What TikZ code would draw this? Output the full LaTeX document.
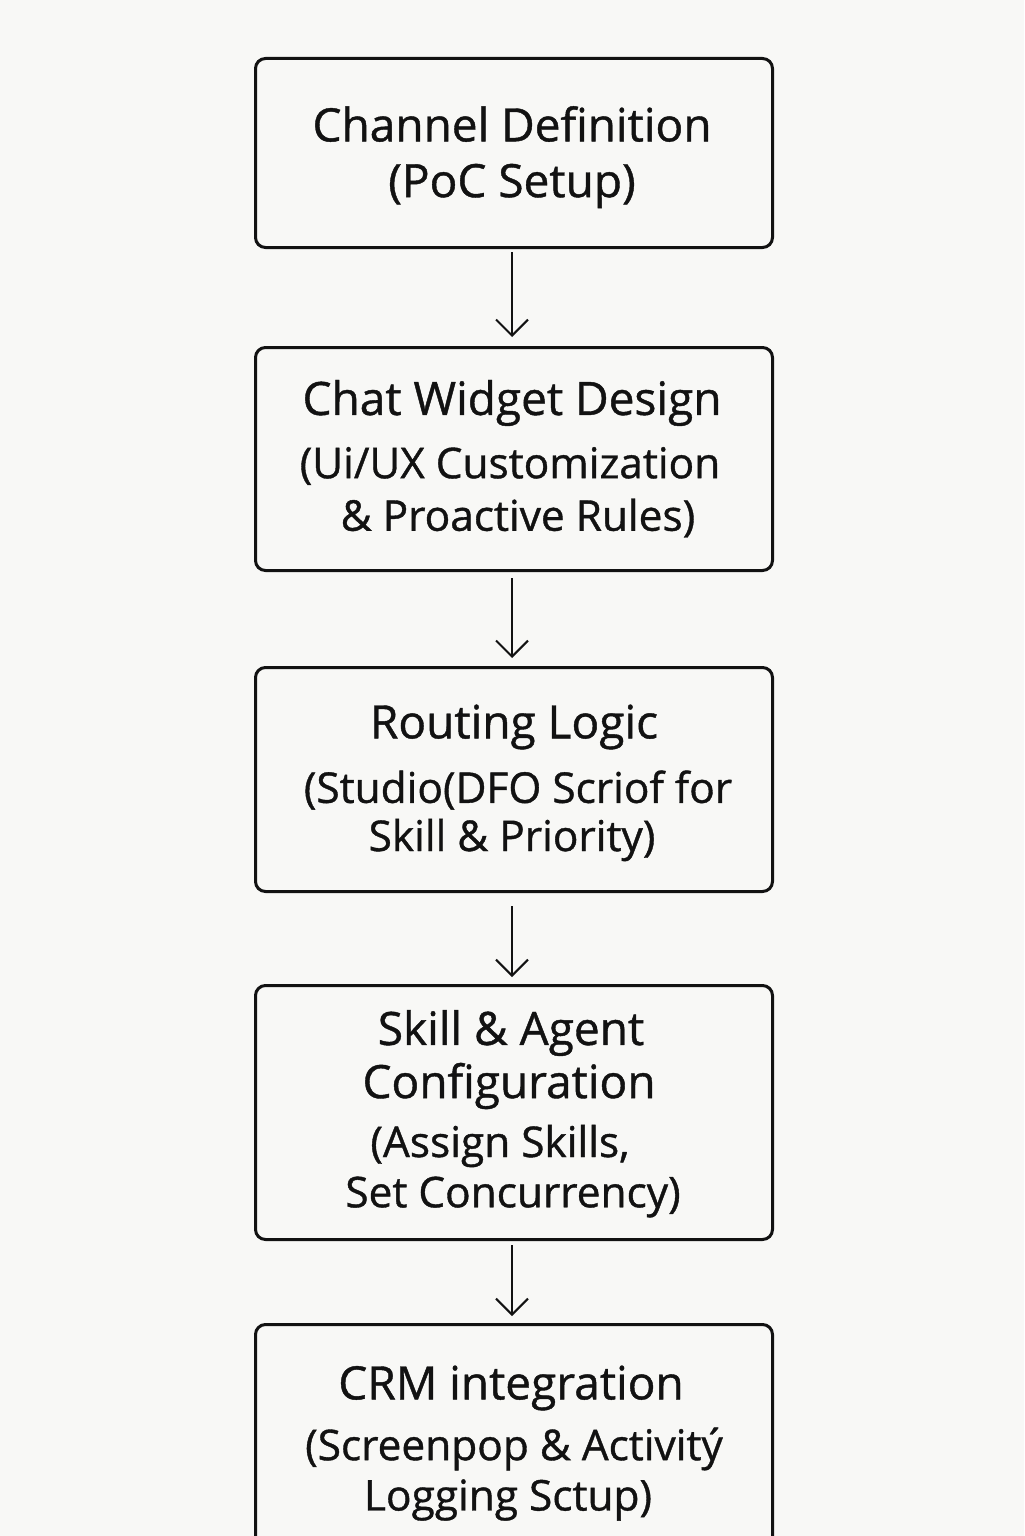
\documentclass[tikz,border=0pt]{standalone}
\usepackage{fontspec}
\setmainfont{Open Sans}[FakeBold=0.9]
\definecolor{bg}{RGB}{248,248,246}
\definecolor{ink}{RGB}{18,18,18}
\tikzset{
  stepbox/.style={draw=ink, line width=1.5pt, rounded corners=5pt, fill=bg},
  flow/.style={draw=ink, line width=1.0pt, -{Straight Barb[length=8pt,width=16pt,line width=1.0pt]}},
  big/.style={text=ink, font=\fontsize{23}{26}\selectfont, inner sep=0pt, anchor=center},
  mid/.style={text=ink, font=\fontsize{21.2}{24}\selectfont, inner sep=0pt, anchor=center}
}
\usetikzlibrary{arrows.meta}
\begin{document}
\begin{tikzpicture}[x=0.5pt,y=-0.5pt]
\useasboundingbox (0,0) rectangle (1024,1536);
\fill[bg] (0,0) rectangle (1024,1536);
\begin{scope}
\clip (0,0) rectangle (1024,1536);
\node[stepbox, minimum width=258.5pt, minimum height=94.5pt, anchor=north west] (b1) at (254,57) {};
\node[stepbox, minimum width=258.5pt, minimum height=111.5pt, anchor=north west] (b2) at (254,346) {};
\node[stepbox, minimum width=258.5pt, minimum height=112pt, anchor=north west] (b3) at (254,666) {};
\node[stepbox, minimum width=258.5pt, minimum height=127pt, anchor=north west] (b4) at (254,984) {};
\node[stepbox, minimum width=258.5pt, minimum height=120pt, anchor=north west] (b5) at (254,1323) {};
\end{scope}
% texts
\node[big] (t1a) at (512,124) {Channel Definition};
\node[big] (t1b) at (512,186) {(PoC Setup)};
\node[big] (t2a) at (512,403) {Chat Widget Design};
\node[mid] (t2b) at (510,466) {(Ui/UX Customization};
\node[mid] (t2c) at (518,518) {\& Proactive Rules)};
\node[big] (t3a) at (514,727) {Routing Logic};
\node[mid] (t3b) at (518,790) {(Studio(DFO Scriof for};
\node[mid] (t3c) at (512,840) {Skill \& Priority)};
\node[big] (t4a) at (511,1033) {Skill \& Agent};
\node[big] (t4b) at (509,1086) {Configuration};
\node[mid] (t4c) at (500,1146) {(Assign Skills,};
\node[mid] (t4d) at (513,1197) {Set Concurrency)};
\node[big] (t5a) at (511,1388) {CRM integration};
\node[mid] (t5b) at (514,1449) {(Screenpop \& Activitý};
\node[mid] (t5c) at (508,1500) {Logging Sctup)};
% arrows
\coordinate (a1s) at (512,252); \coordinate (a1e) at (512,337);
\coordinate (a2s) at (512,578); \coordinate (a2e) at (512,658);
\coordinate (a3s) at (512,906); \coordinate (a3e) at (512,977);
\coordinate (a4s) at (512,1245); \coordinate (a4e) at (512,1316);
\draw[flow] (a1s) -- (a1e);
\draw[flow] (a2s) -- (a2e);
\draw[flow] (a3s) -- (a3e);
\draw[flow] (a4s) -- (a4e);
\end{tikzpicture}
\end{document}
